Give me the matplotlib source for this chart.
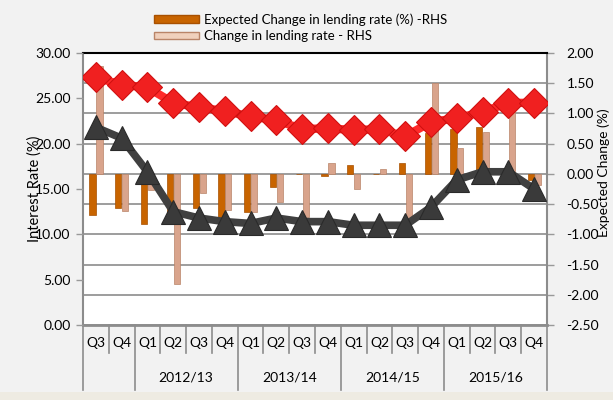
import matplotlib
matplotlib.use("Agg")
import matplotlib.pyplot as plt
import numpy as np
from matplotlib.patches import Patch, Rectangle
from matplotlib.lines import Line2D

plt.rcParams['font.family'] = ['Lato', 'DejaVu Sans']

quarters = ["Q3", "Q4", "Q1", "Q2", "Q3", "Q4", "Q1", "Q2", "Q3", "Q4",
            "Q1", "Q2", "Q3", "Q4", "Q1", "Q2", "Q3", "Q4"]
years = ["", "2012/13", "2013/14", "2014/15", "2015/16"]
year_sizes = [2, 4, 4, 4, 4]

lending_rate = [27.3, 26.5, 26.2, 24.5, 24.0, 23.6, 23.0, 22.6, 21.6, 21.7,
                21.5, 21.6, 20.8, 22.4, 22.8, 23.5, 24.5, 24.5]
policy_rate = [21.8, 20.6, 16.9, 12.5, 11.8, 11.4, 11.2, 11.8, 11.4, 11.4,
               11.0, 11.0, 11.0, 13.0, 16.0, 16.9, 16.9, 15.0]
expected_change = [-0.68, -0.57, -0.83, -0.71, -0.57, -0.75, -0.63, -0.21, 0.0, -0.03,
                   0.15, -0.01, 0.18, 0.68, 0.74, 0.78, 0.0, -0.10]
actual_change = [1.78, -0.62, -0.27, -1.82, -0.31, -0.60, -0.63, -0.46, -0.71, 0.18,
                 -0.25, 0.08, -0.73, 1.51, 0.43, 0.70, 1.02, -0.18]

W, H = 613, 400
fig = plt.figure(figsize=(W / 100, H / 100), dpi=100)
fig.patch.set_facecolor('#F2F2F2')
fig.patches.append(Rectangle((0, 0), 1, 8 / H, transform=fig.transFigure,
                             facecolor='#EEEBE2', edgecolor='none', zorder=0))

L, R, T, B = 83, 547, 53, 325
ax2 = fig.add_axes([L / W, 1 - B / H, (R - L) / W, (B - T) / H])
ax = ax2.twinx()
ax.yaxis.tick_left()
ax.yaxis.set_label_position('left')
ax2.yaxis.tick_right()
ax2.yaxis.set_label_position('right')
ax.set_zorder(ax2.get_zorder() + 1)
ax.patch.set_visible(False)
ax2.set_facecolor('white')

x = np.arange(len(quarters))
bw = 0.24
ax2.bar(x - 0.13, expected_change, width=bw, color='#C86400', edgecolor='#A85000',
        linewidth=0.5, zorder=3)
ax2.bar(x + 0.14, actual_change, width=bw, color='#D9A48C', edgecolor='#B98468',
        linewidth=0.5, zorder=3)

ax.plot(x, lending_rate, color='#FF2A2A', linewidth=6, marker='D', markersize=15,
        markerfacecolor='#F02020', markeredgecolor='#D01010', markeredgewidth=0.8,
        zorder=5, solid_joinstyle='round')
ax.plot(x, policy_rate, color='#404040', linewidth=5.5, marker='^', markersize=17,
        markerfacecolor='#3A3A3A', markeredgecolor='#2A2A2A', markeredgewidth=0.8,
        zorder=4, solid_joinstyle='round')

ax.set_xlim(-0.5, len(quarters) - 0.5)
ax2.set_xlim(-0.5, len(quarters) - 0.5)
ax.set_ylim(0, 30)
ax2.set_ylim(-2.5, 2.0)
ax.set_yticks(np.arange(0, 31, 5))
ax.set_yticklabels([f"{v:.2f}" for v in np.arange(0, 31, 5)])
rt = np.arange(-2.5, 2.01, 0.5)
ax2.set_yticks(rt)
ax2.set_yticklabels([f"{v:.2f}" for v in rt])
ax2.grid(axis='y', color='#8C8C8C', linewidth=1.2, zorder=0)
ax2.set_axisbelow(True)

for a in (ax, ax2):
    a.set_xticks([])
    a.tick_params(axis='y', labelsize=10, colors='#999999', labelcolor='black',
                  length=5, width=1, pad=4)
    for s in a.spines.values():
        s.set_visible(False)
ax2.tick_params(axis='y', pad=9)

ax2.spines['left'].set_visible(True)
ax2.spines['left'].set_color('#8C8C8C')
ax2.spines['left'].set_linewidth(1.5)
ax2.spines['right'].set_visible(True)
ax2.spines['right'].set_color('#8C8C8C')
ax2.spines['right'].set_linewidth(1.5)
ax2.spines['bottom'].set_visible(True)
ax2.spines['bottom'].set_color('#8C8C8C')
ax2.spines['bottom'].set_linewidth(2)
ax2.spines['top'].set_visible(True)
ax2.spines['top'].set_color('black')
ax2.spines['top'].set_linewidth(1.5)

ax.set_ylabel("Interest Rate (%)", fontsize=10.5)
ax.yaxis.set_label_coords(-(L - 42) / (R - L), 0.5)
ax2.set_ylabel("Expected Change (%)", fontsize=10)
ax2.yaxis.set_label_coords((597 - L) / (R - L), (B - 173) / (B - T))

# Two-level category axis
trans = ax2.get_xaxis_transform()
short_y = -(353 - B) / (B - T)
long_y = -(390 - B) / (B - T)
q_y = -(343 - B) / (B - T)
yr_y = -(377 - B) / (B - T)
bounds = np.cumsum([0] + year_sizes) - 0.5
for i, q in enumerate(quarters):
    ax2.text(x[i], q_y, q, transform=trans, ha='center', va='center', fontsize=10)
for b in np.arange(-0.5, len(quarters), 1.0):
    is_long = np.any(np.isclose(bounds, b))
    ax2.add_line(Line2D([b, b], [0, long_y if is_long else short_y], transform=trans,
                        color='#8C8C8C', linewidth=1.2, clip_on=False))
for k, yl in enumerate(years):
    c = (bounds[k] + bounds[k + 1]) / 2
    ax2.text(c, yr_y, yl, transform=trans, ha='center', va='center', fontsize=10)

handles = [Patch(facecolor='#C86400', edgecolor='#A85000'),
           Patch(facecolor='#F0D0BC', edgecolor='#B98468')]
labels = ["Expected Change in lending rate (%) -RHS", "Change in lending rate - RHS"]
fig.legend(handles, labels, loc='upper left', bbox_to_anchor=(145 / W, 1 - 4 / H),
           frameon=False, fontsize=9.5, handlelength=3.4, handleheight=0.5,
           handletextpad=0.4, labelspacing=0.35, borderpad=0.2)

fig.savefig("out.png", dpi=100, facecolor=fig.get_facecolor())
